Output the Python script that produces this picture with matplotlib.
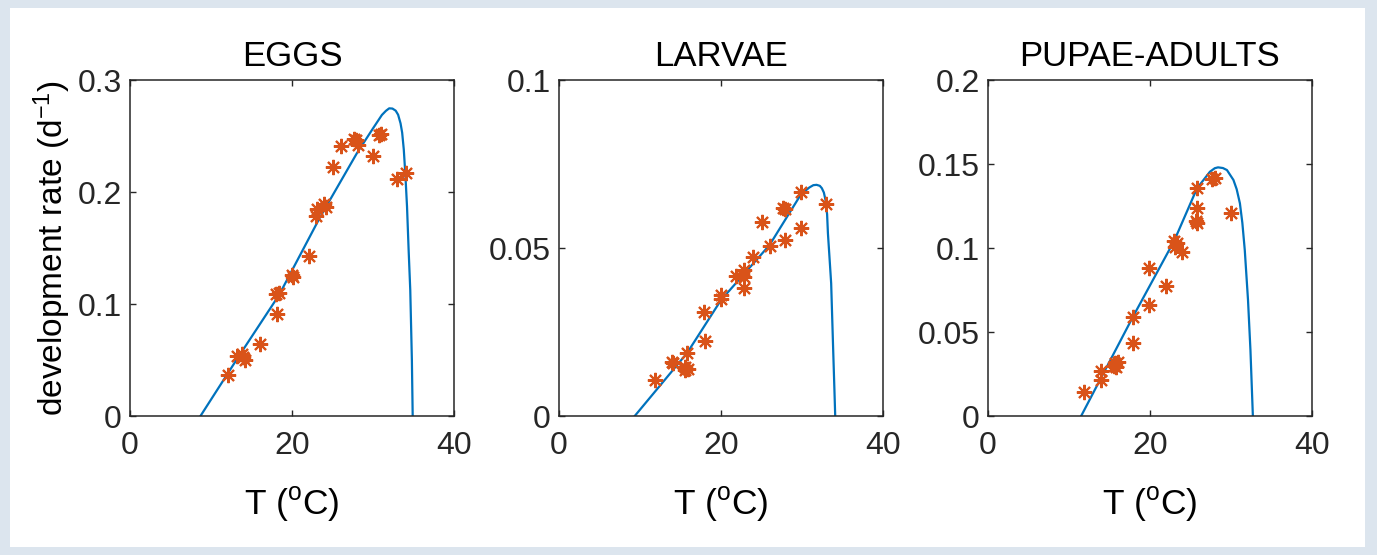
import matplotlib.pyplot as plt
from matplotlib.patches import Rectangle

plt.rcParams['font.family'] = ['Liberation Sans', 'DejaVu Sans']
plt.rcParams['mathtext.fontset'] = 'custom'
plt.rcParams['mathtext.rm'] = 'Liberation Sans'
plt.rcParams['mathtext.it'] = 'Liberation Sans'

# EGGS
eggs_T = [12.1, 13.2, 14.0, 14.2, 13.8, 16.0, 18.1, 18.4, 18.0, 20.1, 20.0, 22.1,
          23.0, 23.1, 24.2, 24.0, 25.1, 26.1, 27.9, 28.1, 27.7, 30.0, 31.0, 30.8,
          33.0, 34.1]
eggs_r = [0.037, 0.054, 0.053, 0.050, 0.055, 0.064, 0.091, 0.110, 0.109, 0.124, 0.126, 0.143,
          0.179, 0.185, 0.187, 0.189, 0.222, 0.241, 0.246, 0.242, 0.247, 0.232, 0.252, 0.251,
          0.212, 0.217]
eggs_fit_T = [8.7, 13.4, 18.4, 23.5, 28.0, 30.0, 31.1, 31.6, 32.0, 32.4, 32.8, 33.1, 33.4,
              33.6, 33.8, 34.0, 34.2, 34.4, 34.6, 34.8, 34.9]
eggs_fit_r = [0.0, 0.053, 0.108, 0.178, 0.2345, 0.2568, 0.2688, 0.2725, 0.2747, 0.2745, 0.2726,
              0.2690, 0.2613, 0.2530, 0.2380, 0.2150, 0.1870, 0.1480, 0.1125, 0.050, 0.0]

# LARVAE
larv_T = [11.9, 13.9, 14.1, 15.6, 15.8, 15.5, 15.9, 17.9, 18.0, 20.0, 20.0, 21.9,
          22.9, 22.9, 22.9, 23.9, 26.0, 25.0, 27.9, 27.6, 27.9, 29.9, 29.9, 33.0]
larv_r = [0.0107, 0.0162, 0.0158, 0.0145, 0.0187, 0.0137, 0.0140, 0.0309, 0.0223, 0.0347, 0.0360, 0.0417,
          0.0435, 0.0415, 0.0380, 0.0474, 0.0507, 0.0578, 0.0524, 0.0618, 0.0616, 0.0560, 0.0668, 0.0630]
larv_fit_T = [9.35, 15.8, 20.0, 26.0, 29.7, 30.4, 30.9, 31.4, 31.8, 32.2, 32.45, 32.7, 32.9,
              33.1, 33.2, 33.4, 33.6, 33.85, 34.0, 34.1]
larv_fit_r = [0.0, 0.0187, 0.0345, 0.0509, 0.0653, 0.0670, 0.0680, 0.0687, 0.0688, 0.0685, 0.0678,
              0.0665, 0.0643, 0.0600, 0.0544, 0.0470, 0.0395, 0.0196, 0.008, 0.0]

# PUPAE-ADULTS
pupa_T = [11.85, 13.9, 13.9, 15.7, 15.8, 15.5, 16.0, 17.9, 17.9, 19.9, 19.9, 22.0,
          23.0, 23.1, 23.3, 23.9, 25.8, 25.7, 25.8, 25.8, 27.7, 28.0, 30.0]
pupa_r = [0.0145, 0.0214, 0.027, 0.0313, 0.029, 0.030, 0.032, 0.0591, 0.0433, 0.0879, 0.0661, 0.0774,
          0.1044, 0.1004, 0.1030, 0.0978, 0.1147, 0.1160, 0.1236, 0.1355, 0.1409, 0.1415, 0.121]
pupa_fit_T = [11.5, 17.9, 23.0, 25.8, 27.4, 28.0, 28.4, 29.0, 29.5, 30.3, 30.7, 31.1, 31.4,
              31.7, 32.1, 32.4, 32.7]
pupa_fit_r = [0.0, 0.0591, 0.1044, 0.1355, 0.1454, 0.1475, 0.148, 0.1476, 0.1464, 0.1405, 0.1350,
              0.1266, 0.1150, 0.0988, 0.069, 0.0393, 0.0]

titles = ['EGGS', 'LARVAE', 'PUPAE-ADULTS']
ymax = [0.3, 0.1, 0.2]
yticks = [[0, 0.1, 0.2, 0.3], [0, 0.05, 0.1], [0, 0.05, 0.1, 0.15, 0.2]]
yticklabels = [['0', '0.1', '0.2', '0.3'], ['0', '0.05', '0.1'],
               ['0', '0.05', '0.1', '0.15', '0.2']]
data = [(eggs_T, eggs_r, eggs_fit_T, eggs_fit_r),
        (larv_T, larv_r, larv_fit_T, larv_fit_r),
        (pupa_T, pupa_r, pupa_fit_T, pupa_fit_r)]

W, H = 1377, 555
fig = plt.figure(figsize=(W / 100, H / 100), dpi=100, facecolor='#dce5ee')
fig.patches.append(Rectangle((10 / W, 8 / H), 1355 / W, 539 / H, transform=fig.transFigure,
                             facecolor='white', edgecolor='none', zorder=-10))

lefts = [130, 559, 988]
for i in range(3):
    ax = fig.add_axes([lefts[i] / W, (H - 416) / H, 324 / W, 336 / H])
    T, r, fT, fr = data[i]
    ax.plot(fT, fr, color='#0072BD', lw=1.6, zorder=2)
    ax.plot(T, r, ls='none', marker=(8, 2, 0), ms=11, mew=1.5, color='#D95319', zorder=3)
    ax.set_xlim(0, 40)
    ax.set_ylim(0, ymax[i])
    ax.set_xticks([0, 20, 40])
    ax.set_yticks(yticks[i])
    ax.set_yticklabels(yticklabels[i])
    ax.tick_params(direction='in', length=4, width=1, top=True, right=True,
                   labelsize=23, colors='#262626')
    ax.tick_params(axis='x', pad=11)
    ax.tick_params(axis='y', pad=6)
    for s in ax.spines.values():
        s.set_color('#262626')
        s.set_linewidth(1.1)
    ax.set_title(titles[i], fontsize=25, pad=10)
    ax.set_xlabel(r'T ($^{\rm o}$C)', fontsize=25.5, labelpad=17)
    if i == 0:
        ax.set_ylabel(r'development rate (d$^{-1}$)', fontsize=24, labelpad=3)

fig.savefig('out.png', dpi=100, facecolor=fig.get_facecolor())
